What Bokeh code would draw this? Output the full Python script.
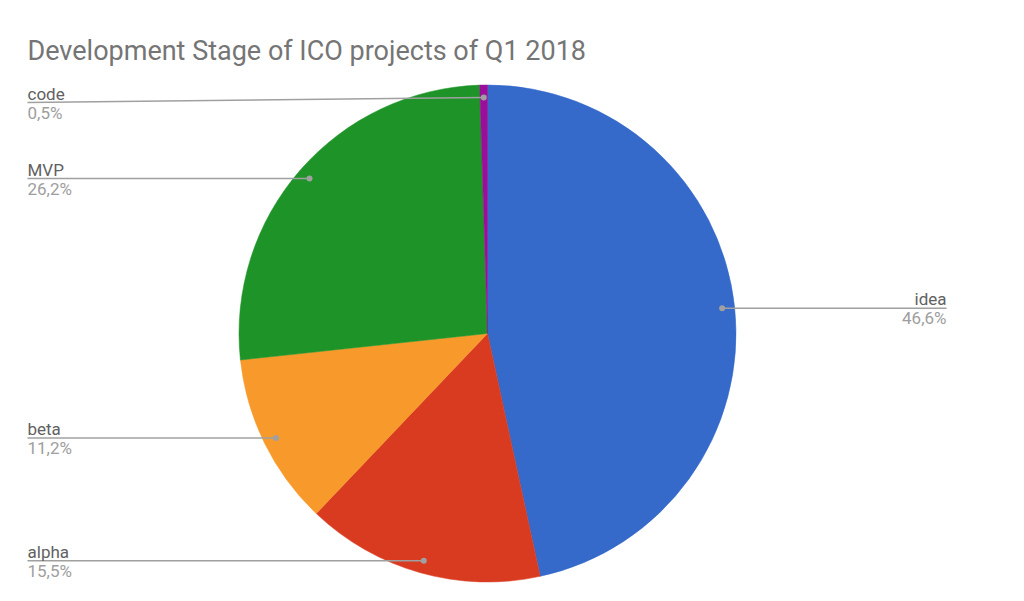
import math
from bokeh.plotting import figure
from bokeh.models import Range1d, ColumnDataSource
from bokeh.core.properties import value
from bokeh.embed import file_html
from bokeh.resources import INLINE

# ---- data ----
stages = ["idea", "alpha", "beta", "MVP", "code"]
shares = [46.6, 15.5, 11.2, 26.2, 0.5]
pct_labels = ["46,6%", "15,5%", "11,2%", "26,2%", "0,5%"]
colors = ["#3569CA", "#D93B21", "#F8992B", "#1E9428", "#9A0F9A"]
title_text = "Development Stage of ICO projects of Q1 2018"

# ---- layout (screen pixels of the page) ----
W, H = 1008, 585
PAGE_H = 601
def sy(y):  # page y (down) -> data y (up)
    return PAGE_H - y

cx, cy_page, R = 487, 333, 248.5
cy = sy(cy_page)

p = figure(width=W, height=H, output_backend="svg", toolbar_location=None,
           x_range=Range1d(0, W), y_range=Range1d(sy(H), sy(0)),
           min_border=0, background_fill_color="#ffffff", border_fill_color="#ffffff",
           outline_line_color=None)
p.axis.visible = False
p.grid.visible = False

total = sum(shares)
starts, ends, mids = [], [], []
acc = 0.0
for v in shares:
    a0 = acc / total
    acc += v
    a1 = acc / total
    starts.append(math.pi / 2 - a0 * 2 * math.pi)
    ends.append(math.pi / 2 - a1 * 2 * math.pi)
    mids.append((a0 + a1) / 2)

src = ColumnDataSource(dict(start=starts, end=ends, color=colors, stage=stages))
p.wedge(x=cx, y=cy, radius=R, start_angle="start", end_angle="end",
        direction="clock", fill_color="color", line_color="color", line_width=0.5,
        source=src)

# leader dots and lines
dot_r = 236
label_left_x = 27
label_right_x = 946
top_label_limit = 102  # labels cannot sit higher than this page y
name_col = "#616161"
pct_col = "#9E9E9E"
line_col = "#A0A0A0"
font = value("Roboto")

for i, stage in enumerate(stages):
    ang = mids[i] * 2 * math.pi
    dx = math.sin(ang) * dot_r
    dy = math.cos(ang) * dot_r
    dot_x = cx + dx
    dot_y = cy + dy
    right = dx > 0
    lab_y = min(dot_y, sy(top_label_limit))
    lab_x = label_right_x if right else label_left_x
    p.line([dot_x, lab_x], [dot_y, lab_y], line_color=line_col, line_width=1.5)
    p.scatter([dot_x], [dot_y], size=6, fill_color=line_col, line_color=None)
    align = "right" if right else "left"
    p.text([lab_x], [lab_y + 9], text=[stage], text_font=font, text_font_size="17px",
           text_color=name_col, text_align=align, text_baseline="alphabetic")
    p.text([lab_x], [lab_y - 10], text=[pct_labels[i]], text_font=font,
           text_font_size="17px", text_color=pct_col, text_align=align,
           text_baseline="alphabetic")

p.text([27], [sy(50)], text=[title_text], text_font=font, text_font_size="27px",
       text_color="#757575", text_align="left", text_baseline="alphabetic")

open("out.html", "w").write(file_html(p, INLINE))
